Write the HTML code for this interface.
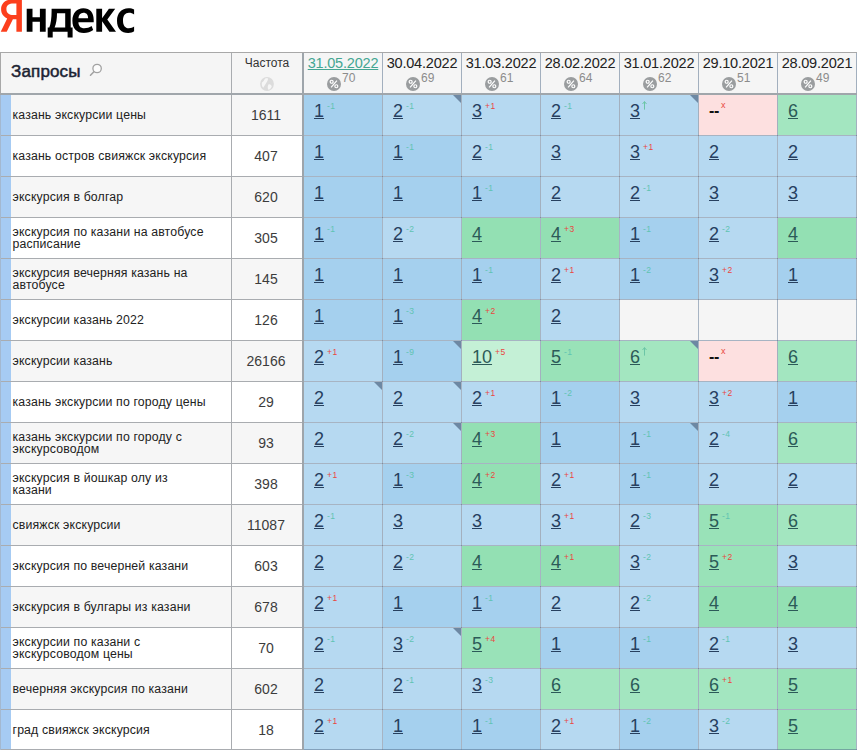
<!DOCTYPE html>
<html lang="ru"><head><meta charset="utf-8"><title>Яндекс</title>
<style>
html,body{margin:0;padding:0;background:#fff;}
body{width:857px;height:750px;overflow:hidden;position:relative;font-family:"Liberation Sans",sans-serif;color:#222;}
.logo{position:absolute;left:0;top:0;}
.tbl{position:absolute;left:0;top:0;width:857px;height:750px;}
.hdr{position:absolute;left:1px;top:53px;width:856px;height:40px;background:#f5f5f5;}
.hq{position:absolute;left:11px;top:61.5px;font-size:17px;font-weight:normal;-webkit-text-stroke:0.5px #1c2333;color:#1c2333;line-height:20px;white-space:nowrap;letter-spacing:0.15px;}
.hf{position:absolute;left:232px;top:56px;width:70px;text-align:center;font-size:12px;color:#333;line-height:14px;}
.hc{position:absolute;top:53px;width:78px;height:40px;text-align:center;white-space:nowrap;}
.dt{position:absolute;left:0;right:0;top:1px;font-size:14.5px;line-height:18px;color:#222;letter-spacing:-0.2px;}
.dt.first{color:#44a692;text-decoration:underline;}
.pc{position:absolute;left:22px;top:18px;height:20px;}
.pci{position:absolute;left:1px;top:6px;width:14px;height:14px;}
.pn{position:absolute;left:16px;top:0;font-size:12px;color:#8c8c8c;line-height:14px;}
.row{position:absolute;left:0;width:857px;height:40px;}
.ra{background:#f6f6f6;}
.rb{background:#fff;}
.bar{position:absolute;left:1px;top:0;width:10px;height:41px;background:#a6cbf3;}
.q{position:absolute;left:12.5px;top:0;width:215px;height:40px;line-height:41px;font-size:12.3px;letter-spacing:0.15px;color:#222;white-space:nowrap;}
.q.two{line-height:12.3px;padding-top:7.5px;height:32px;}
.f{position:absolute;left:231px;top:0;width:70px;height:40px;line-height:40px;text-align:center;font-size:14px;color:#3c3c3c;}
.c{position:absolute;top:0;width:78px;height:40px;white-space:nowrap;font-size:0;}
.E{background:#f5f5f5;}
.D{background:#a5d0ee;}
.L{background:#b6d9f1;}
.G{background:#93e0b3;}
.G1{background:#99e2b8;}
.G2{background:#a3e6c0;}
.G3{background:#c4f0d6;}
.P{background:#fde0e0;}
.G .v,.G1 .v,.G2 .v,.G3 .v{color:#2c5a58;}
.v{display:inline-block;margin-left:10px;margin-top:5px;vertical-align:top;font-size:18px;line-height:22px;color:#27405f;text-decoration:underline;text-decoration-thickness:1px;}
.v.nd{text-decoration:none;color:#111;margin-left:10px;font-size:16px;font-weight:bold;letter-spacing:-0.3px;}
.s{display:inline-block;vertical-align:top;margin-top:6px;margin-left:3px;font-size:8.5px;line-height:10px;letter-spacing:0.5px;}
.s.ar{margin-top:6px;margin-left:2px;}
.s.x{margin-top:5px;margin-left:2px;font-size:9px;}
.s.g{color:#60c3b2;}
.s.r{color:#e9473f;}
.k{position:absolute;right:0;top:0;width:0;height:0;border-top:8px solid #6d88a3;border-left:8px solid transparent;}
.grid i{position:absolute;display:block;}
.vl{top:53px;width:1px;height:700px;background:rgba(80,105,135,.5);}
.vl.g{background:#a9acb0;}
.vl2{top:53px;width:2px;height:700px;background:#9ea5ab;}
.hl{left:304px;width:553px;height:1px;background:rgba(80,105,135,.5);}
.hl.g{left:0;width:302px;background:#a9acb0;}
.hl2{left:0;width:857px;height:2px;background:#a0a6ab;}
.hl.t{background:#a8a8a8;left:0;width:857px;}
.vl.l{background:#a8a8a8;top:52px;height:42px;}
.vl.lb{background:#a3b8d0;top:95px;}

</style></head>
<body>
<svg class="logo" width="140" height="42" viewBox="0 0 140 42">
<path fill="#fc3f1d" fill-rule="evenodd" d="M21.9 -0.6 H12.6 C5.4 -0.6 1.1 3.4 1.1 9.2 C1.1 13.6 3.2 16.4 7.2 18.4 L0.7 31.7 H6.7 L12.9 19.3 H16.4 V31.7 H21.9 Z M16.4 15.0 H13.2 C9.2 15.0 6.4 13.2 6.4 9.0 C6.4 5.0 9.3 3.5 13.3 3.5 H16.4 Z"/>
<g fill="#000" fill-rule="evenodd">
<path d="M26.7 8.75 H32.5 V17.2 H39.9 V8.75 H45.7 V31.7 H39.9 V21.8 H32.5 V31.7 H26.7 Z"/>
<path d="M51.6 8.75 H70.7 V27.6 H72.6 V37.4 H67.6 V31.7 H52.7 V37.4 H47.7 V27.6 H49.3 C50.8 24 51.6 18 51.6 11 Z M57 13.2 H65.2 V27.6 H54.6 C56.2 23.5 57 18.5 57 13.2 Z"/>
<path d="M78.4 22.3 C78.6 26.2 80.6 28.3 84.3 28.3 C87 28.3 89.4 27.5 91.6 26.1 L93.2 30 C90.6 31.9 87.4 32.9 83.9 32.9 C76.6 32.9 72.4 28.4 72.4 20.7 C72.4 13.3 76.5 8.2 83.3 8.2 C90 8.2 93.7 12.6 93.7 19.6 L93.7 22.3 Z M78.4 18.2 H88.1 C88.1 14.9 86.6 12.7 83.4 12.7 C80.4 12.7 78.7 14.8 78.4 18.2 Z"/>
<path d="M96.3 8.75 H102.1 V18.3 L108.9 8.75 H115.2 L107.3 19.6 L116 31.7 H109.4 L102.1 21.3 V31.7 H96.3 Z"/>
<path d="M128.2 32.9 C121.3 32.9 117 28.5 117 20.7 C117 13.2 121.4 8.2 128.4 8.2 C130.9 8.2 132.7 8.7 134.1 9.5 V14.4 C132.7 13.5 131 12.8 128.9 12.8 C125.2 12.8 123 15.6 123 20.5 C123 25.4 125 28.3 128.9 28.3 C131 28.3 132.7 27.6 134.1 26.6 V31.3 C132.6 32.3 130.8 32.9 128.2 32.9 Z"/>
</g></svg>
<div class="tbl">
<div class="hdr"></div>
<div class="hq">Запросы</div>
<svg class="mag" style="position:absolute;left:89px;top:63px" width="14" height="14" viewBox="0 0 14 14"><circle cx="8.1" cy="5.5" r="4.2" fill="#fcfcfc" stroke="#a2a2a2" stroke-width="1.3"/><path d="M4.9 8.8 L1.5 12.2" stroke="#a2a2a2" stroke-width="1.6" stroke-linecap="round"/></svg>
<div class="hf">Частота</div>
<svg class="globe" style="position:absolute;left:260px;top:77px" width="14" height="14" viewBox="0 0 14 14"><circle cx="7" cy="7" r="6.9" fill="#dcdcdc"/><path d="M7.6 1 C8.6 2.4 7.2 4.4 6.2 6 C5.2 7.6 4.2 9.6 3.1 10.8 C1.9 9.2 1.5 7 1.9 5.4 C3.4 4.9 4.4 3 5.1 1.6 Z" fill="#f6f6f6"/><path d="M8.6 7.3 C9.9 6.8 11.2 7.8 11.7 9.4 C11.2 11 9.7 12.4 8.2 12.7 C7.4 11 7.6 9 8.6 7.3 Z" fill="#f6f6f6"/></svg>
<div class="hc" style="left:304px"><span class="dt first">31.05.2022</span><span class="pc"><svg class="pci" viewBox="0 0 15 15"><circle cx="7.5" cy="7.5" r="7.5" fill="#9a9d9f"/><g stroke="#fff" stroke-width="1.3" fill="none"><circle cx="5" cy="5.1" r="1.6"/><circle cx="10" cy="9.9" r="1.6"/><path d="M10.6 3.8 L4.4 11.2"/></g></svg><span class="pn">70</span></span></div>
<div class="hc" style="left:383px"><span class="dt">30.04.2022</span><span class="pc"><svg class="pci" viewBox="0 0 15 15"><circle cx="7.5" cy="7.5" r="7.5" fill="#9a9d9f"/><g stroke="#fff" stroke-width="1.3" fill="none"><circle cx="5" cy="5.1" r="1.6"/><circle cx="10" cy="9.9" r="1.6"/><path d="M10.6 3.8 L4.4 11.2"/></g></svg><span class="pn">69</span></span></div>
<div class="hc" style="left:462px"><span class="dt">31.03.2022</span><span class="pc"><svg class="pci" viewBox="0 0 15 15"><circle cx="7.5" cy="7.5" r="7.5" fill="#9a9d9f"/><g stroke="#fff" stroke-width="1.3" fill="none"><circle cx="5" cy="5.1" r="1.6"/><circle cx="10" cy="9.9" r="1.6"/><path d="M10.6 3.8 L4.4 11.2"/></g></svg><span class="pn">61</span></span></div>
<div class="hc" style="left:541px"><span class="dt">28.02.2022</span><span class="pc"><svg class="pci" viewBox="0 0 15 15"><circle cx="7.5" cy="7.5" r="7.5" fill="#9a9d9f"/><g stroke="#fff" stroke-width="1.3" fill="none"><circle cx="5" cy="5.1" r="1.6"/><circle cx="10" cy="9.9" r="1.6"/><path d="M10.6 3.8 L4.4 11.2"/></g></svg><span class="pn">64</span></span></div>
<div class="hc" style="left:620px"><span class="dt">31.01.2022</span><span class="pc"><svg class="pci" viewBox="0 0 15 15"><circle cx="7.5" cy="7.5" r="7.5" fill="#9a9d9f"/><g stroke="#fff" stroke-width="1.3" fill="none"><circle cx="5" cy="5.1" r="1.6"/><circle cx="10" cy="9.9" r="1.6"/><path d="M10.6 3.8 L4.4 11.2"/></g></svg><span class="pn">62</span></span></div>
<div class="hc" style="left:699px"><span class="dt">29.10.2021</span><span class="pc"><svg class="pci" viewBox="0 0 15 15"><circle cx="7.5" cy="7.5" r="7.5" fill="#9a9d9f"/><g stroke="#fff" stroke-width="1.3" fill="none"><circle cx="5" cy="5.1" r="1.6"/><circle cx="10" cy="9.9" r="1.6"/><path d="M10.6 3.8 L4.4 11.2"/></g></svg><span class="pn">51</span></span></div>
<div class="hc" style="left:778px"><span class="dt">28.09.2021</span><span class="pc"><svg class="pci" viewBox="0 0 15 15"><circle cx="7.5" cy="7.5" r="7.5" fill="#9a9d9f"/><g stroke="#fff" stroke-width="1.3" fill="none"><circle cx="5" cy="5.1" r="1.6"/><circle cx="10" cy="9.9" r="1.6"/><path d="M10.6 3.8 L4.4 11.2"/></g></svg><span class="pn">49</span></span></div>
<div class="row ra" style="top:95px"><i class="bar"></i><div class="q">казань экскурсии цены</div><div class="f">1611</div><div class="c D" style="left:304px"><span class="v">1</span><span class="s g">-1</span></div><div class="c L" style="left:383px"><span class="v">2</span><span class="s g">-1</span><i class="k"></i></div><div class="c L" style="left:462px"><span class="v">3</span><span class="s r">+1</span></div><div class="c L" style="left:541px"><span class="v">2</span><span class="s g">-1</span></div><div class="c L" style="left:620px"><span class="v">3</span><span class="s g ar"><svg width="5" height="9" viewBox="0 0 5 9"><path d="M2.5 0.6 V8.6 M0.5 3 L2.5 0.6 L4.5 3" fill="none" stroke="#6cc5a6" stroke-width="1"/></svg></span><i class="k"></i></div><div class="c P" style="left:699px"><span class="v nd">--</span><span class="s r x">x</span></div><div class="c G2" style="left:778px"><span class="v">6</span></div></div>
<div class="row rb" style="top:136px"><i class="bar"></i><div class="q">казань остров свияжск экскурсия</div><div class="f">407</div><div class="c D" style="left:304px"><span class="v">1</span></div><div class="c D" style="left:383px"><span class="v">1</span><span class="s g">-1</span></div><div class="c L" style="left:462px"><span class="v">2</span><span class="s g">-1</span></div><div class="c L" style="left:541px"><span class="v">3</span></div><div class="c L" style="left:620px"><span class="v">3</span><span class="s r">+1</span></div><div class="c L" style="left:699px"><span class="v">2</span></div><div class="c L" style="left:778px"><span class="v">2</span></div></div>
<div class="row ra" style="top:177px"><i class="bar"></i><div class="q">экскурсия в болгар</div><div class="f">620</div><div class="c D" style="left:304px"><span class="v">1</span></div><div class="c D" style="left:383px"><span class="v">1</span></div><div class="c D" style="left:462px"><span class="v">1</span><span class="s g">-1</span></div><div class="c L" style="left:541px"><span class="v">2</span></div><div class="c L" style="left:620px"><span class="v">2</span><span class="s g">-1</span></div><div class="c L" style="left:699px"><span class="v">3</span></div><div class="c L" style="left:778px"><span class="v">3</span></div></div>
<div class="row rb" style="top:218px"><i class="bar"></i><div class="q two">экскурсия по казани на автобусе<br>расписание</div><div class="f">305</div><div class="c D" style="left:304px"><span class="v">1</span><span class="s g">-1</span></div><div class="c L" style="left:383px"><span class="v">2</span><span class="s g">-2</span></div><div class="c G" style="left:462px"><span class="v">4</span></div><div class="c G" style="left:541px"><span class="v">4</span><span class="s r">+3</span></div><div class="c D" style="left:620px"><span class="v">1</span><span class="s g">-1</span></div><div class="c L" style="left:699px"><span class="v">2</span><span class="s g">-2</span></div><div class="c G" style="left:778px"><span class="v">4</span></div></div>
<div class="row ra" style="top:259px"><i class="bar"></i><div class="q two">экскурсия вечерняя казань на<br>автобусе</div><div class="f">145</div><div class="c D" style="left:304px"><span class="v">1</span></div><div class="c D" style="left:383px"><span class="v">1</span></div><div class="c D" style="left:462px"><span class="v">1</span><span class="s g">-1</span></div><div class="c L" style="left:541px"><span class="v">2</span><span class="s r">+1</span></div><div class="c D" style="left:620px"><span class="v">1</span><span class="s g">-2</span></div><div class="c L" style="left:699px"><span class="v">3</span><span class="s r">+2</span></div><div class="c D" style="left:778px"><span class="v">1</span></div></div>
<div class="row rb" style="top:300px"><i class="bar"></i><div class="q">экскурсии казань 2022</div><div class="f">126</div><div class="c D" style="left:304px"><span class="v">1</span></div><div class="c D" style="left:383px"><span class="v">1</span><span class="s g">-3</span></div><div class="c G" style="left:462px"><span class="v">4</span><span class="s r">+2</span></div><div class="c L" style="left:541px"><span class="v">2</span></div><div class="c E" style="left:620px"></div><div class="c E" style="left:699px"></div><div class="c E" style="left:778px"></div></div>
<div class="row ra" style="top:341px"><i class="bar"></i><div class="q">экскурсии казань</div><div class="f">26166</div><div class="c L" style="left:304px"><span class="v">2</span><span class="s r">+1</span></div><div class="c D" style="left:383px"><span class="v">1</span><span class="s g">-9</span><i class="k"></i></div><div class="c G3" style="left:462px"><span class="v">10</span><span class="s r">+5</span></div><div class="c G1" style="left:541px"><span class="v">5</span><span class="s g">-1</span></div><div class="c G2" style="left:620px"><span class="v">6</span><span class="s g ar"><svg width="5" height="9" viewBox="0 0 5 9"><path d="M2.5 0.6 V8.6 M0.5 3 L2.5 0.6 L4.5 3" fill="none" stroke="#6cc5a6" stroke-width="1"/></svg></span><i class="k"></i></div><div class="c P" style="left:699px"><span class="v nd">--</span><span class="s r x">x</span></div><div class="c G2" style="left:778px"><span class="v">6</span></div></div>
<div class="row rb" style="top:382px"><i class="bar"></i><div class="q">казань экскурсии по городу цены</div><div class="f">29</div><div class="c L" style="left:304px"><span class="v">2</span><i class="k"></i></div><div class="c L" style="left:383px"><span class="v">2</span><i class="k"></i></div><div class="c L" style="left:462px"><span class="v">2</span><span class="s r">+1</span></div><div class="c D" style="left:541px"><span class="v">1</span><span class="s g">-2</span></div><div class="c L" style="left:620px"><span class="v">3</span></div><div class="c L" style="left:699px"><span class="v">3</span><span class="s r">+2</span></div><div class="c D" style="left:778px"><span class="v">1</span></div></div>
<div class="row ra" style="top:423px"><i class="bar"></i><div class="q two">казань экскурсии по городу с<br>экскурсоводом</div><div class="f">93</div><div class="c L" style="left:304px"><span class="v">2</span></div><div class="c L" style="left:383px"><span class="v">2</span><span class="s g">-2</span><i class="k"></i></div><div class="c G" style="left:462px"><span class="v">4</span><span class="s r">+3</span></div><div class="c D" style="left:541px"><span class="v">1</span></div><div class="c D" style="left:620px"><span class="v">1</span><span class="s g">-1</span><i class="k"></i></div><div class="c L" style="left:699px"><span class="v">2</span><span class="s g">-4</span></div><div class="c G2" style="left:778px"><span class="v">6</span></div></div>
<div class="row rb" style="top:464px"><i class="bar"></i><div class="q two">экскурсия в йошкар олу из<br>казани</div><div class="f">398</div><div class="c L" style="left:304px"><span class="v">2</span><span class="s r">+1</span></div><div class="c D" style="left:383px"><span class="v">1</span><span class="s g">-3</span></div><div class="c G" style="left:462px"><span class="v">4</span><span class="s r">+2</span></div><div class="c L" style="left:541px"><span class="v">2</span><span class="s r">+1</span></div><div class="c D" style="left:620px"><span class="v">1</span><span class="s g">-1</span></div><div class="c L" style="left:699px"><span class="v">2</span></div><div class="c L" style="left:778px"><span class="v">2</span></div></div>
<div class="row ra" style="top:505px"><i class="bar"></i><div class="q">свияжск экскурсии</div><div class="f">11087</div><div class="c L" style="left:304px"><span class="v">2</span><span class="s g">-1</span></div><div class="c L" style="left:383px"><span class="v">3</span></div><div class="c L" style="left:462px"><span class="v">3</span></div><div class="c L" style="left:541px"><span class="v">3</span><span class="s r">+1</span></div><div class="c L" style="left:620px"><span class="v">2</span><span class="s g">-3</span></div><div class="c G1" style="left:699px"><span class="v">5</span><span class="s g">-1</span></div><div class="c G2" style="left:778px"><span class="v">6</span></div></div>
<div class="row rb" style="top:546px"><i class="bar"></i><div class="q">экскурсия по вечерней казани</div><div class="f">603</div><div class="c L" style="left:304px"><span class="v">2</span></div><div class="c L" style="left:383px"><span class="v">2</span><span class="s g">-2</span></div><div class="c G" style="left:462px"><span class="v">4</span></div><div class="c G" style="left:541px"><span class="v">4</span><span class="s r">+1</span></div><div class="c L" style="left:620px"><span class="v">3</span><span class="s g">-2</span></div><div class="c G1" style="left:699px"><span class="v">5</span><span class="s r">+2</span></div><div class="c L" style="left:778px"><span class="v">3</span></div></div>
<div class="row ra" style="top:587px"><i class="bar"></i><div class="q">экскурсия в булгары из казани</div><div class="f">678</div><div class="c L" style="left:304px"><span class="v">2</span><span class="s r">+1</span></div><div class="c D" style="left:383px"><span class="v">1</span></div><div class="c D" style="left:462px"><span class="v">1</span><span class="s g">-1</span></div><div class="c L" style="left:541px"><span class="v">2</span></div><div class="c L" style="left:620px"><span class="v">2</span><span class="s g">-2</span></div><div class="c G" style="left:699px"><span class="v">4</span></div><div class="c G" style="left:778px"><span class="v">4</span></div></div>
<div class="row rb" style="top:628px"><i class="bar"></i><div class="q two">экскурсии по казани с<br>экскурсоводом цены</div><div class="f">70</div><div class="c L" style="left:304px"><span class="v">2</span><span class="s g">-1</span></div><div class="c L" style="left:383px"><span class="v">3</span><span class="s g">-2</span><i class="k"></i></div><div class="c G1" style="left:462px"><span class="v">5</span><span class="s r">+4</span></div><div class="c D" style="left:541px"><span class="v">1</span></div><div class="c D" style="left:620px"><span class="v">1</span><span class="s g">-1</span></div><div class="c L" style="left:699px"><span class="v">2</span><span class="s g">-1</span></div><div class="c L" style="left:778px"><span class="v">3</span></div></div>
<div class="row ra" style="top:669px"><i class="bar"></i><div class="q">вечерняя экскурсия по казани</div><div class="f">602</div><div class="c L" style="left:304px"><span class="v">2</span></div><div class="c L" style="left:383px"><span class="v">2</span><span class="s g">-1</span></div><div class="c L" style="left:462px"><span class="v">3</span><span class="s g">-3</span></div><div class="c G2" style="left:541px"><span class="v">6</span></div><div class="c G2" style="left:620px"><span class="v">6</span></div><div class="c G2" style="left:699px"><span class="v">6</span><span class="s r">+1</span></div><div class="c G1" style="left:778px"><span class="v">5</span></div></div>
<div class="row rb" style="top:710px"><i class="bar"></i><div class="q">град свияжск экскурсия</div><div class="f">18</div><div class="c L" style="left:304px"><span class="v">2</span><span class="s r">+1</span></div><div class="c D" style="left:383px"><span class="v">1</span></div><div class="c D" style="left:462px"><span class="v">1</span><span class="s g">-1</span></div><div class="c L" style="left:541px"><span class="v">2</span><span class="s r">+1</span></div><div class="c D" style="left:620px"><span class="v">1</span><span class="s g">-2</span></div><div class="c L" style="left:699px"><span class="v">3</span><span class="s g">-2</span></div><div class="c G1" style="left:778px"><span class="v">5</span></div></div>
<div class="grid"><i class="vl g" style="left:231px"></i><i class="vl" style="left:382px"></i><i class="vl" style="left:461px"></i><i class="vl" style="left:540px"></i><i class="vl" style="left:619px"></i><i class="vl" style="left:698px"></i><i class="vl" style="left:777px"></i><i class="vl" style="left:856px"></i><i class="vl2" style="left:302px"></i><i class="hl" style="top:135px"></i><i class="hl g" style="top:135px"></i><i class="hl" style="top:176px"></i><i class="hl g" style="top:176px"></i><i class="hl" style="top:217px"></i><i class="hl g" style="top:217px"></i><i class="hl" style="top:258px"></i><i class="hl g" style="top:258px"></i><i class="hl" style="top:299px"></i><i class="hl g" style="top:299px"></i><i class="hl" style="top:340px"></i><i class="hl g" style="top:340px"></i><i class="hl" style="top:381px"></i><i class="hl g" style="top:381px"></i><i class="hl" style="top:422px"></i><i class="hl g" style="top:422px"></i><i class="hl" style="top:463px"></i><i class="hl g" style="top:463px"></i><i class="hl" style="top:504px"></i><i class="hl g" style="top:504px"></i><i class="hl" style="top:545px"></i><i class="hl g" style="top:545px"></i><i class="hl" style="top:586px"></i><i class="hl g" style="top:586px"></i><i class="hl" style="top:627px"></i><i class="hl g" style="top:627px"></i><i class="hl" style="top:668px"></i><i class="hl g" style="top:668px"></i><i class="hl" style="top:709px"></i><i class="hl g" style="top:709px"></i><i class="hl" style="top:750px"></i><i class="hl g" style="top:750px"></i><i class="hl" style="top:749px"></i><i class="hl g" style="top:749px"></i><i class="hl2" style="top:93px"></i><i class="hl t" style="top:52px"></i><i class="vl l" style="left:0"></i><i class="vl lb" style="left:0"></i></div>
</div>
</body></html>
